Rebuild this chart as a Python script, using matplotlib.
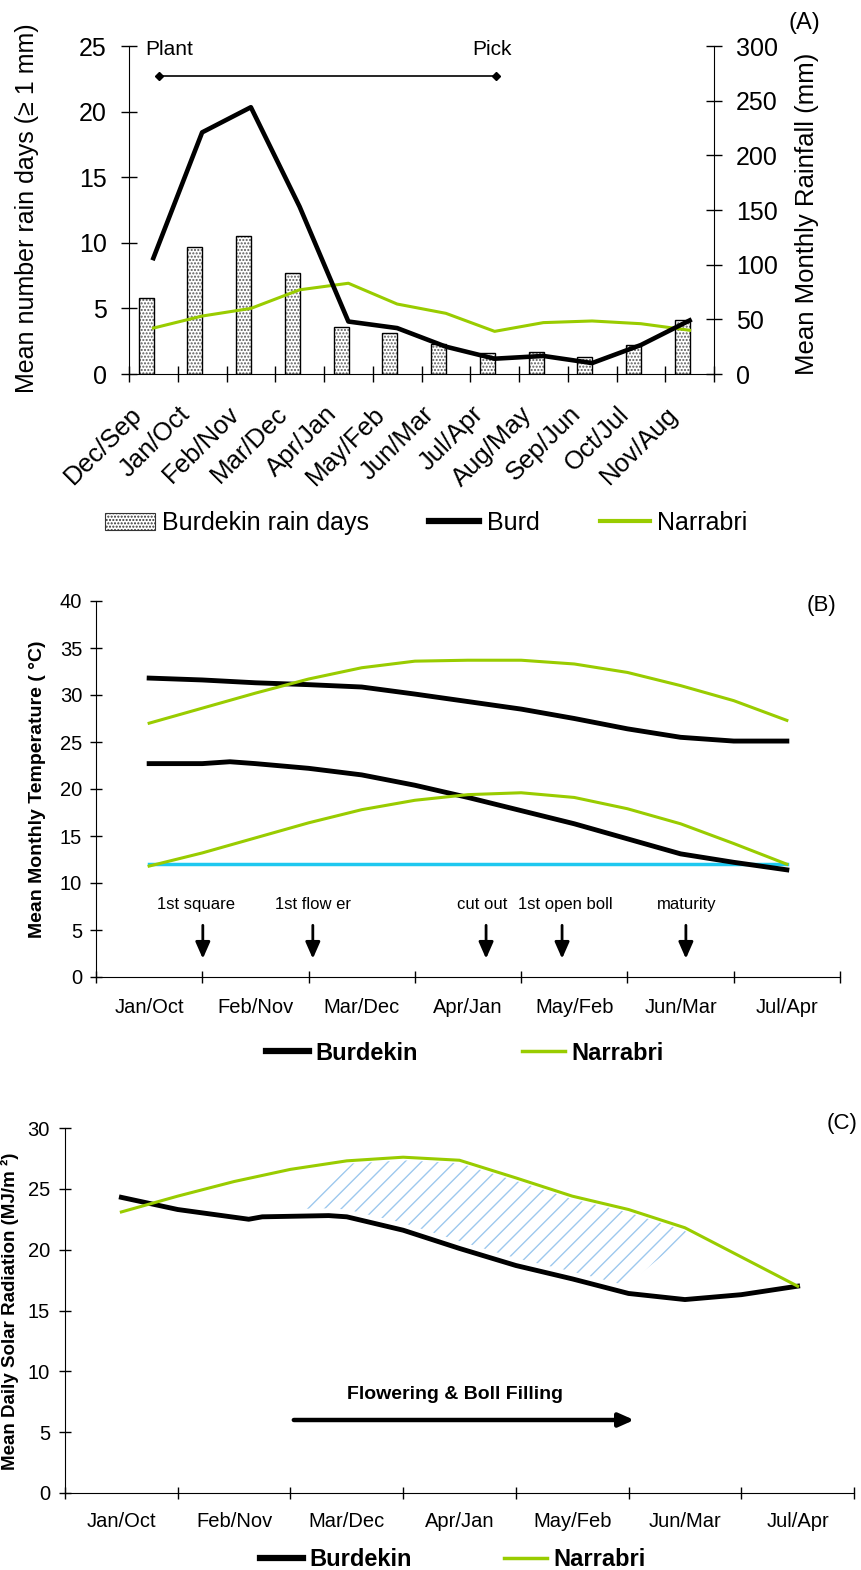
import numpy as np
import matplotlib
matplotlib.use('Agg')
import matplotlib.pyplot as plt
import matplotlib.transforms as mtransforms
from matplotlib.patches import Patch
from matplotlib.lines import Line2D

plt.rcParams['font.family'] = ['Liberation Sans', 'DejaVu Sans']

GREEN = '#99CC00'
CYAN = '#1EC8F0'
HATCH_BLUE = '#9DC8EE'

# --- Panel A: rainfall ---
months_a = ['Dec/Sep', 'Jan/Oct', 'Feb/Nov', 'Mar/Dec', 'Apr/Jan', 'May/Feb',
            'Jun/Mar', 'Jul/Apr', 'Aug/May', 'Sep/Jun', 'Oct/Jul', 'Nov/Aug']
rain_days_burdekin = [5.8, 9.7, 10.5, 7.7, 3.6, 3.1, 2.3, 1.6, 1.7, 1.3, 2.2, 4.1]
rainfall_burdekin = [106, 221, 244, 153, 48, 42, 25, 14, 16.5, 10, 26.5, 49]
rainfall_narrabri = [42, 53, 60, 77, 83, 64, 55.5, 39, 47, 48.5, 46, 40]
season_marks = ['Plant', 'Pick']
season_x = [0.12, 7.02]
season_level = 22.7

# --- Panel B: temperature ---
months_bc = ['Jan/Oct', 'Feb/Nov', 'Mar/Dec', 'Apr/Jan', 'May/Feb', 'Jun/Mar', 'Jul/Apr']
half_steps = [0, 0.5, 1, 1.5, 2, 2.5, 3, 3.5, 4, 4.5, 5, 5.5, 6]
tmax_burdekin = [31.8, 31.6, 31.3, 31.1, 30.85, 30.1, 29.3, 28.5, 27.5, 26.4, 25.5, 25.1, 25.1]
tmax_narrabri = [27.0, 28.6, 30.2, 31.7, 32.9, 33.6, 33.7, 33.7, 33.3, 32.4, 31.0, 29.4, 27.3]
tmin_burdekin_x = [0, 0.5, 0.76, 1, 1.5, 2, 2.5, 3, 3.5, 4, 4.5, 5, 5.5, 6]
tmin_burdekin = [22.7, 22.7, 22.9, 22.7, 22.2, 21.5, 20.4, 19.1, 17.7, 16.3, 14.7, 13.1, 12.2, 11.4]
tmin_narrabri = [11.8, 13.2, 14.8, 16.4, 17.8, 18.8, 19.4, 19.6, 19.1, 17.9, 16.3, 14.2, 12.0]
base_temp = 12
stages = ['1st square', '1st flow er', 'cut out', '1st open boll', 'maturity']
stage_x = [0.505, 1.54, 3.17, 3.885, 5.05]
stage_label_x = [0.44, 1.54, 3.13, 3.92, 5.06]

# --- Panel C: solar radiation ---
rad_burdekin_x = [0, 0.5, 1.13, 1.25, 1.84, 2, 2.5, 3, 3.5, 4, 4.5, 5, 5.5, 6]
rad_burdekin = [24.3, 23.3, 22.5, 22.7, 22.8, 22.7, 21.6, 20.1, 18.7, 17.6, 16.4, 15.9, 16.3, 17.0]
rad_narrabri = [23.1, 24.4, 25.6, 26.6, 27.3, 27.6, 27.35, 25.9, 24.4, 23.3, 21.8, 19.4, 17.0]
# hatched band: slanted ends (bottom x, top x) on the left and right side
hatch_left = [1.62, 2.05]
hatch_right = [4.48, 5.04]
flowering_span = [1.53, 4.55]

W, H = 861, 1570
fig = plt.figure(figsize=(W / 100, H / 100), dpi=100)


def px_axes(left, top, right, bottom):
    return fig.add_axes([left / W, 1 - bottom / H, (right - left) / W, (bottom - top) / H])


def boundary_ticks(ax, n, length, pad, labelsize):
    ax.set_xticks(np.arange(-0.5, n, 1.0), minor=True)
    ax.tick_params(axis='x', which='minor', direction='inout', length=length, width=1)
    ax.tick_params(axis='x', which='major', length=0, pad=pad, labelsize=labelsize)


# ---------------- Panel A ----------------
axA = px_axes(129, 46, 714, 374)
xa = np.arange(len(months_a))
axA.bar(xa - 0.15, rain_days_burdekin, width=0.31, color='white', edgecolor='#5a5a5a',
        hatch='.....', linewidth=0, zorder=2)
axA.bar(xa - 0.15, rain_days_burdekin, width=0.31, facecolor='none', edgecolor='black',
        linewidth=1, zorder=3)
axA.plot(season_x, [season_level] * 2, color='black', lw=1.2, marker='D', ms=4, zorder=4)
for name, sx in zip(season_marks, [0.32, 6.94]):
    axA.text(sx, 24.7, name, ha='center', va='center', fontsize=15)
axA.set_xlim(-0.5, 11.5)
axA.set_ylim(0, 25)
axA.set_yticks(range(0, 26, 5))
axA.set_xticks(xa)
axA.set_xticklabels(months_a, rotation=45, ha='right')
boundary_ticks(axA, 12, 12, 20, 18.5)
shift = mtransforms.ScaledTranslation(-7 / 100, 0, fig.dpi_scale_trans)
for lbl in axA.get_xticklabels():
    lbl.set_transform(lbl.get_transform() + shift)
axA.tick_params(axis='y', direction='inout', length=12, width=1, pad=10, labelsize=18)
for s in ['top', 'right']:
    axA.spines[s].set_visible(False)

axA2 = axA.twinx()
axA2.plot(xa, rainfall_burdekin, color='black', lw=3.3, zorder=5)
axA2.plot(xa, rainfall_narrabri, color=GREEN, lw=2.2, zorder=4)
axA2.set_ylim(0, 300)
axA2.set_yticks(range(0, 301, 50))
axA2.tick_params(axis='y', direction='inout', length=12, width=1, pad=10, labelsize=18)
for s in ['top', 'left', 'bottom']:
    axA2.spines[s].set_visible(False)

fig.text(27.5 / W, 1 - 208 / H, 'Mean number rain days (\u2265 1 mm)', rotation=90,
         ha='center', va='center', fontsize=18)
fig.text(807 / W, 1 - 214 / H, 'Mean Monthly Rainfall (mm)', rotation=90,
         ha='center', va='center', fontsize=18.5)
fig.text(804 / W, 1 - 23 / H, '(A)', ha='center', va='center', fontsize=17)

handles_a = [Patch(facecolor='white', edgecolor='#333333', hatch='.....', lw=0.8),
             Line2D([0], [0], color='black', lw=4.5),
             Line2D([0], [0], color=GREEN, lw=3)]
fig.legend(handles_a, ['Burdekin rain days', 'Burd', 'Narrabri'], loc='center',
           bbox_to_anchor=(426 / W, 1 - 523 / H), ncol=3, frameon=False, fontsize=18,
           handlelength=2.0, handletextpad=0.3, columnspacing=2.4)

# ---------------- Panel B ----------------
axB = px_axes(96, 601, 840, 977)
axB.plot([0, 6], [base_temp] * 2, color=CYAN, lw=2.5, zorder=2)
axB.plot(half_steps, tmax_burdekin, color='black', lw=3.5, zorder=3)
axB.plot(tmin_burdekin_x, tmin_burdekin, color='black', lw=3.5, zorder=3)
axB.plot(half_steps, tmax_narrabri, color=GREEN, lw=2.2, zorder=4)
axB.plot(half_steps, tmin_narrabri, color=GREEN, lw=2.2, zorder=4)
for name, ax_, lx in zip(stages, stage_x, stage_label_x):
    axB.annotate('', xy=(ax_, 1.95), xytext=(ax_, 5.5),
                 arrowprops=dict(arrowstyle='-|>,head_length=0.5,head_width=0.22',
                                 color='black', lw=2, shrinkA=0, shrinkB=0,
                                 mutation_scale=20))
    axB.text(lx, 7.7, name, ha='center', va='center', fontsize=12)
axB.set_xlim(-0.5, 6.5)
axB.set_ylim(0, 40)
axB.set_yticks(range(0, 41, 5))
axB.set_xticks(range(len(months_bc)))
axB.set_xticklabels(months_bc)
boundary_ticks(axB, 7, 9, 15, 14.5)
axB.tick_params(axis='y', direction='inout', length=9, width=1, pad=5.5, labelsize=14.5)
for s in ['top', 'right']:
    axB.spines[s].set_visible(False)

fig.text(37.5 / W, 1 - 789 / H, 'Mean Monthly Temperature ( \u00b0C)', rotation=90,
         ha='center', va='center', fontsize=14, fontweight='bold')
fig.text(822 / W, 1 - 605 / H, '(B)', ha='center', va='center', fontsize=16)

handles_bc = [Line2D([0], [0], color='black', lw=4.5), Line2D([0], [0], color=GREEN, lw=2.5)]
fig.legend(handles_bc, ['Burdekin', 'Narrabri'], loc='center',
           bbox_to_anchor=(465 / W, 1 - 1053 / H), ncol=2, frameon=False,
           prop={'size': 17, 'weight': 'bold'}, handlelength=1.8, handletextpad=0.3,
           columnspacing=4.4)

# ---------------- Panel C ----------------
axC = px_axes(65, 1128, 854, 1493)


def narr_edge(x):
    return np.interp(x, half_steps, rad_narrabri) - 0.25


def burd_edge(x):
    return np.interp(x, rad_burdekin_x, rad_burdekin) + 0.6


top_x = np.linspace(hatch_left[1], hatch_right[1], 50)
bot_x = np.linspace(hatch_right[0], hatch_left[0], 50)
poly_x = np.concatenate([top_x, bot_x])
poly_y = np.concatenate([narr_edge(top_x), burd_edge(bot_x)])
axC.fill(poly_x, poly_y, facecolor='none', edgecolor=HATCH_BLUE, hatch='//',
         linewidth=0, zorder=1)
axC.plot(rad_burdekin_x, rad_burdekin, color='black', lw=3.5, zorder=3)
axC.plot(half_steps, rad_narrabri, color=GREEN, lw=2.2, zorder=4)
axC.annotate('', xy=(flowering_span[1], 6), xytext=(flowering_span[0], 6),
             arrowprops=dict(arrowstyle='-|>,head_length=0.45,head_width=0.2',
                             color='black', lw=3.2, shrinkA=0, shrinkB=0,
                             mutation_scale=20))
axC.text(2.96, 8.1, 'Flowering & Boll Filling', ha='center', va='center',
         fontsize=14, fontweight='bold')
axC.set_xlim(-0.5, 6.5)
axC.set_ylim(0, 30)
axC.set_yticks(range(0, 31, 5))
axC.set_xticks(range(len(months_bc)))
axC.set_xticklabels(months_bc)
boundary_ticks(axC, 7, 9, 13.7, 14.5)
axC.tick_params(axis='y', direction='inout', length=9, width=1, pad=6.3, labelsize=14.5)
for s in ['top', 'right']:
    axC.spines[s].set_visible(False)

fig.text(10 / W, 1 - 1311 / H, 'Mean Daily Solar Radiation (MJ/m \u00b2)', rotation=90,
         ha='center', va='center', fontsize=13.5, fontweight='bold')
fig.text(842 / W, 1 - 1124 / H, '(C)', ha='center', va='center', fontsize=16)

fig.legend(handles_bc, ['Burdekin', 'Narrabri'], loc='center',
           bbox_to_anchor=(453 / W, 1 - 1560 / H), ncol=2, frameon=False,
           prop={'size': 17, 'weight': 'bold'}, handlelength=1.8, handletextpad=0.3,
           columnspacing=3.9)

fig.savefig('out.png', dpi=100)
